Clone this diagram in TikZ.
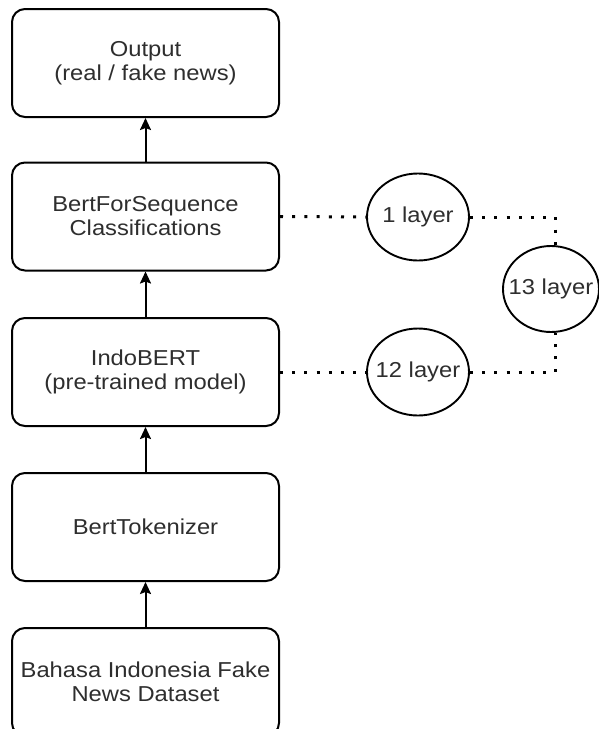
\documentclass[tikz,border=0pt]{standalone}
\usepackage{fontspec}
\setmainfont{Liberation Sans}[FakeStretch=1.1]
\usetikzlibrary{arrows.meta,shapes.geometric}
\definecolor{txt}{HTML}{2E2E2E}
\tikzset{
  stage/.style={draw=black, line width=2pt, rounded corners=13pt,
    minimum width=267pt, minimum height=108pt, align=center,
    text=txt, font=\fontsize{21.6}{24}\selectfont, inner sep=0pt},
  layer/.style={draw=black, line width=1.9pt, ellipse, inner ysep=0pt,
    inner xsep=-14pt, text=txt, font=\fontsize{21.6}{24}\selectfont},
  flow/.style={line width=2pt, -{Stealth[length=12pt,width=11pt,inset=2pt]}},
  dots/.style={line width=3pt, dash pattern=on 3pt off 9.2pt},
}
\begin{document}
\begin{tikzpicture}[x=1pt,y=-1pt]
  \useasboundingbox[fill=white] (0,0) rectangle (598,729);

  % pipeline stages, bottom to top
  \node[stage] (out)  at (145.5,63)  {Output\\(real / fake news)};
  \node[stage] (cls)  at (145.5,216.5) {BertForSequence\\Classifications};
  \node[stage] (indo) at (145.5,372) {IndoBERT\\(pre-trained model)};
  \node[stage] (tok)  at (145.5,527) {BertTokenizer};
  \node[stage] (data) at (145.5,682) {Bahasa Indonesia Fake\\News Dataset};

  \draw[flow] (data.north) -- (tok.south);
  \draw[flow] (tok.north)  -- (indo.south);
  \draw[flow] (indo.north) -- (cls.south);
  \draw[flow] (cls.north)  -- (out.south);

  % layer counts
  \node[layer, minimum width=102pt, minimum height=87pt] (l1)  at (418,217) {1 layer};
  \node[layer, minimum width=102pt, minimum height=87pt] (l12) at (418,372) {12 layer};
  \node[layer, minimum width=96pt,  minimum height=86pt] (l13) at (551,289) {13 layer};

  \coordinate (c1)  at (555,217);
  \coordinate (c12) at (555,372);

  \draw[dots] (cls.east) -- (l1.west);
  \draw[dots] (l1.east) -- (c1) -- (c1 |- l13.north);
  \draw[dots] (indo.east) -- (l12.west);
  \draw[dots] (l12.east) -- (c12) -- (c12 |- l13.south);
\end{tikzpicture}
\end{document}
